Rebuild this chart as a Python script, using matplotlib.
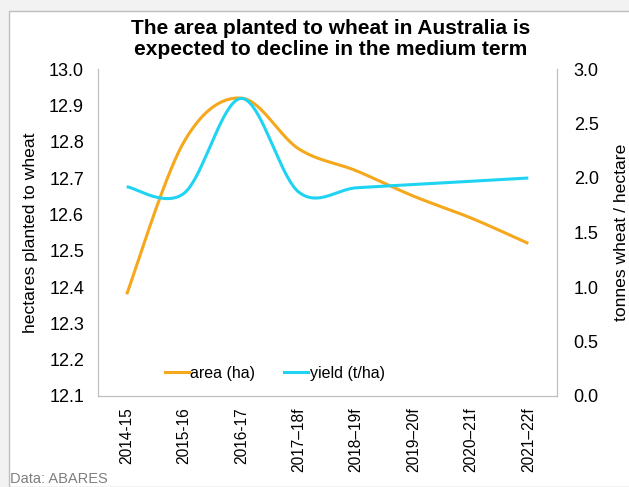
import matplotlib as mpl
mpl.use('Agg')
import numpy as np
import matplotlib.pyplot as plt
from matplotlib.lines import Line2D
from matplotlib.patches import Rectangle

plt.rcParams['font.family'] = ['Liberation Sans', 'DejaVu Sans']

years = ['2014-15', '2015-16', '2016-17', '2017–18f', '2018–19f', '2019–20f', '2020–21f', '2021–22f']
area = [12.38, 12.80, 12.92, 12.78, 12.72, 12.65, 12.59, 12.52]    # million ha
yld = [1.92, 1.86, 2.73, 1.87, 1.91, 1.94, 1.97, 2.00]              # t/ha

orange = '#F5A81C'
cyan = '#1FD3F2'


def smooth(y, n=40):
	# Excel-style smoothed line (Catmull-Rom as cubic bezier)
	y = np.asarray(y, float)
	x = np.arange(len(y), dtype=float)
	px = np.concatenate([[x[0]], x, [x[-1]]])
	py = np.concatenate([[y[0]], y, [y[-1]]])
	xs, ys = [], []
	t = np.linspace(0, 1, n)
	for i in range(len(y) - 1):
		p0 = np.array([px[i], py[i]])
		p1 = np.array([px[i + 1], py[i + 1]])
		p2 = np.array([px[i + 2], py[i + 2]])
		p3 = np.array([px[i + 3], py[i + 3]])
		c1 = p1 + (p2 - p0) / 6.0
		c2 = p2 - (p3 - p1) / 6.0
		b = ((1 - t) ** 3)[:, None] * p1 + (3 * (1 - t) ** 2 * t)[:, None] * c1 \
			+ (3 * (1 - t) * t ** 2)[:, None] * c2 + (t ** 3)[:, None] * p2
		xs.extend(b[:, 0])
		ys.extend(b[:, 1])
	return np.array(xs), np.array(ys)


fig = plt.figure(figsize=(6.29, 4.87), dpi=100)
fig.patch.set_facecolor('#F2F2F2')
fig.patches.append(Rectangle((9 / 629, 0), 1, 1 - 11 / 487, transform=fig.transFigure,
	facecolor='white', edgecolor='#BFBFBF', linewidth=1, zorder=-10))

ax1 = fig.add_axes([98 / 629, 91 / 487, 459 / 629, 327 / 487])
ax1.set_facecolor('none')
ax2 = ax1.twinx()

xa, ya = smooth(area)
xy, yy = smooth(yld)
ax1.plot(xa, ya, color=orange, lw=2.2, solid_capstyle='butt')
ax2.plot(xy, yy, color=cyan, lw=2.2, solid_capstyle='butt')

ax1.set_xlim(-0.5, len(years) - 0.5)
ax1.set_ylim(12.1, 13.0)
ax1.set_yticks(np.arange(12.1, 13.01, 0.1))
ax1.set_yticklabels(['%.1f' % v for v in np.arange(12.1, 13.01, 0.1)])
ax2.set_ylim(0, 3.0)
ax2.set_yticks(np.arange(0, 3.01, 0.5))
ax2.set_yticklabels(['%.1f' % v for v in np.arange(0, 3.01, 0.5)])

ax1.set_xticks(range(len(years)))
ax1.set_xticklabels(years, rotation=90)

for ax in (ax1, ax2):
	for s in ax.spines.values():
		s.set_color('#BFBFBF')
	ax.spines['top'].set_visible(False)
	ax.tick_params(length=0, labelsize=13, pad=10)
ax1.tick_params(axis='x', labelsize=11.2, pad=8)
ax2.tick_params(axis='y', pad=12)

ax1.set_ylabel('hectares planted to wheat', fontsize=12.6, labelpad=8)
ax2.set_ylabel('tonnes wheat / hectare', fontsize=12.6, labelpad=11)

fig.suptitle('The area planted to wheat in Australia is\nexpected to decline in the medium term',
	x=0.5255, y=0.96, va='top', fontsize=15, fontweight='bold', linespacing=1.12)

handles = [Line2D([], [], color=orange, lw=2.2), Line2D([], [], color=cyan, lw=2.2)]
ax1.legend(handles, ['area (ha)', 'yield (t/ha)'], ncol=2, frameon=False, fontsize=11.5,
	loc='center', bbox_to_anchor=(0.385, 0.07), handlelength=1.5, handletextpad=0.1,
	columnspacing=1.8)

fig.text(10 / 629, 1 / 487, 'Data: ABARES', fontsize=10.5, color='#7F7F7F', ha='left', va='bottom')

plt.savefig('out.png', dpi=100, facecolor=fig.get_facecolor())
plt.close()
